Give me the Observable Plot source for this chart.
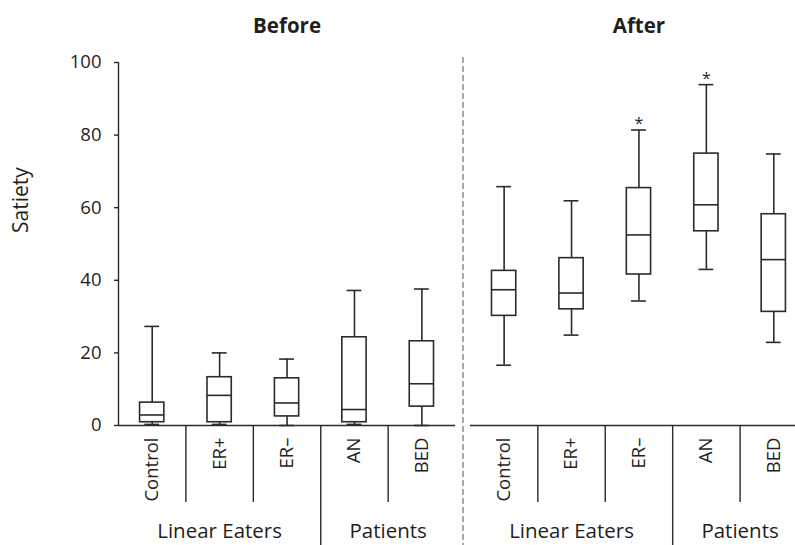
<!DOCTYPE html>
<html><head><meta charset="utf-8">
<script src="https://cdn.jsdelivr.net/npm/d3@7"></script>
<script src="https://cdn.jsdelivr.net/npm/@observablehq/plot@0.6"></script>
<style>html,body{margin:0;padding:0;overflow:hidden;background:#fff}</style>
</head><body><div id="chart"></div>
<script>
// ---- data ----
const categories = ["Control", "ER+", "ER–", "AN", "BED"];
const panels = ["Before", "After"];
const groupLabels = ["Linear Eaters", "Patients"];
const groupStart = [0, 3];          // first category index of each group
const groupEnd = [3, 5];            // one past last category index
const yTicks = [0, 20, 40, 60, 80, 100];

const beforeLow    = [0.3, 0.3, 0.0, 0.3, 0.0];
const beforeQ1     = [0.9, 0.9, 2.5, 0.9, 5.2];
const beforeMedian = [2.9, 8.3, 6.2, 4.4, 11.5];
const beforeQ3     = [6.3, 13.3, 13.0, 24.3, 23.2];
const beforeHigh   = [27.3, 20.0, 18.3, 37.2, 37.6];

const afterLow    = [16.6, 24.9, 34.3, 43.0, 22.9];
const afterQ1     = [30.2, 32.0, 41.6, 53.5, 31.3];
const afterMedian = [37.4, 36.5, 52.5, 60.8, 45.7];
const afterQ3     = [42.6, 46.1, 65.4, 74.9, 58.2];
const afterHigh   = [65.8, 61.9, 81.4, 93.9, 74.8];

const beforeMarks = ["", "", "", "", ""];
const afterMarks  = ["", "", "*", "*", ""];

// ---- build tables ----
const gap = 0.22;                       // gap between panels, in category widths
const span = categories.length + gap;   // x extent of one panel
const series = [
  {lo: beforeLow, q1: beforeQ1, med: beforeMedian, q3: beforeQ3, hi: beforeHigh, mark: beforeMarks},
  {lo: afterLow, q1: afterQ1, med: afterMedian, q3: afterQ3, hi: afterHigh, mark: afterMarks}
];
const rows = [];
panels.forEach((p, pi) => categories.forEach((c, i) => {
  const s = series[pi];
  rows.push({panel: p, cat: c, x: pi * span + i + 0.5,
    lo: s.lo[i], q1: s.q1[i], med: s.med[i], q3: s.q3[i], hi: s.hi[i], mark: s.mark[i]});
}));
const panelRows = panels.map((p, pi) => ({panel: p, x1: pi * span, x2: pi * span + categories.length, cx: pi * span + categories.length / 2}));
const seps = [];
panels.forEach((p, pi) => {
  for (let i = 1; i < categories.length; i++) seps.push({x: pi * span + i, long: groupStart.includes(i)});
});
const groupRows = [];
panels.forEach((p, pi) => groupLabels.forEach((g, gi) => groupRows.push({label: g, x: pi * span + (groupStart[gi] + groupEnd[gi]) / 2})));

const ink = "#231f20";
const line = "#2b2b2b";
const bw = 0.18, cw = 0.11;

const chart = Plot.plot({
  width: 807, height: 545,
  marginLeft: 118, marginRight: 0, marginTop: 62, marginBottom: 120,
  style: {fontFamily: "'Open Sans', sans-serif", color: ink, maxWidth: "none", overflow: "hidden", background: "#fff"},
  x: {domain: [0, 2 * span - gap], axis: null},
  y: {domain: [0, 100], axis: null},
  marks: [
    // y axis
    Plot.axisY({ticks: yTicks, tickSize: 4, tickPadding: 13, fontSize: 18.5, label: null, stroke: line, strokeWidth: 1.4, fill: ink}),
    Plot.ruleX([0], {stroke: line, strokeWidth: 1.4}),
    Plot.text(["Satiety"], {frameAnchor: "left", dx: -97, dy: -11, rotate: -90, fontSize: 21, fill: ink}),
    // panel baselines
    Plot.ruleY(panelRows, {x1: "x1", x2: "x2", y: 0, stroke: line, strokeWidth: 1.4}),
    // separators below axis
    Plot.ruleX(seps.filter(d => !d.long), {x: "x", y1: 0, y2: 0, insetBottom: -77, stroke: line, strokeWidth: 1.4}),
    Plot.ruleX(seps.filter(d => d.long), {x: "x", y1: 0, y2: 0, insetBottom: -120, stroke: line, strokeWidth: 1.4}),
    // dashed divider between panels
    Plot.ruleX([span - gap / 2], {insetTop: -5, insetBottom: -120, stroke: "#555", strokeWidth: 1, strokeDasharray: "6,3"}),
    // whiskers
    Plot.ruleX(rows, {x: "x", y1: "lo", y2: "hi", stroke: line, strokeWidth: 1.6}),
    Plot.ruleY(rows, {x1: d => d.x - cw, x2: d => d.x + cw, y: "hi", stroke: line, strokeWidth: 1.6}),
    Plot.ruleY(rows, {x1: d => d.x - cw, x2: d => d.x + cw, y: "lo", stroke: line, strokeWidth: 1.6}),
    // boxes
    Plot.rect(rows, {x1: d => d.x - bw, x2: d => d.x + bw, y1: "q1", y2: "q3", fill: "white", stroke: line, strokeWidth: 1.6}),
    Plot.ruleY(rows, {x1: d => d.x - bw, x2: d => d.x + bw, y: "med", stroke: line, strokeWidth: 1.6}),
    // significance marks
    Plot.text(rows, {x: "x", y: "hi", text: "mark", lineAnchor: "bottom", dy: -1, fontSize: 16, fill: ink}),
    // category labels
    Plot.text(rows, {x: "x", y: 0, text: "cat", rotate: -90, textAnchor: "end", dy: 12, fontSize: 18.5, fill: ink}),
    // group labels
    Plot.text(groupRows, {x: "x", y: 0, text: "label", lineAnchor: "bottom", dy: 112, fontSize: 20.5, fill: ink}),
    // panel titles
    Plot.text(panelRows, {x: "cx", y: 100, text: "panel", lineAnchor: "bottom", dy: -30, fontSize: 20.5, fontWeight: "bold", fill: ink})
  ]
});
document.getElementById("chart").append(chart);
</script>
</body></html>
